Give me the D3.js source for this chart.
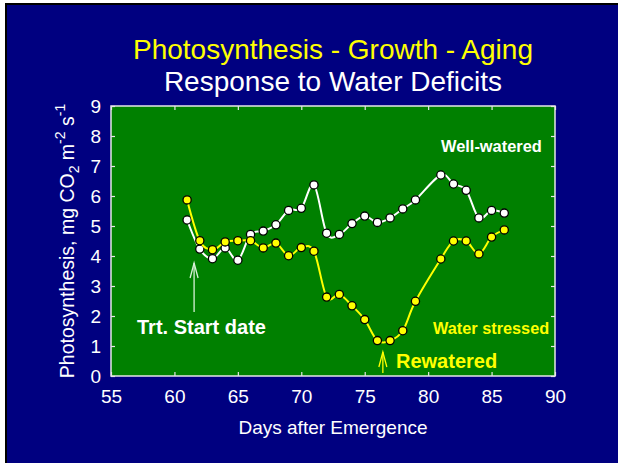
<!DOCTYPE html>
<html>
<head>
<meta charset="utf-8">
<script src="https://cdn.jsdelivr.net/npm/d3@7"></script>
<style>
  html, body { margin: 0; padding: 0; background: #ffffff; }
  svg { display: block; font-family: "Liberation Sans", Arial, sans-serif; }
</style>
</head>
<body>
<svg id="chart" width="618" height="465"></svg>
<script>
// ---- data ----
const wellDays  = [61, 62, 63, 64, 65, 66, 67, 68, 69, 70, 71, 72, 73, 74, 75, 76, 77, 78, 79, 81, 82, 83, 84, 85, 86];
const wellVals  = [5.2, 4.23, 3.91, 4.27, 3.86, 4.72, 4.83, 5.04, 5.52, 5.59, 6.37, 4.76, 4.72, 5.08, 5.33, 5.12, 5.27, 5.57, 5.87, 6.70, 6.40, 6.19, 5.27, 5.52, 5.43];
const stressDays = [61, 62, 63, 64, 65, 66, 67, 68, 69, 70, 71, 72, 73, 74, 75, 76, 77, 78, 79, 81, 82, 83, 84, 85, 86];
const stressVals = [5.87, 4.51, 4.21, 4.47, 4.51, 4.51, 4.27, 4.43, 4.01, 4.28, 4.16, 2.63, 2.72, 2.34, 1.88, 1.18, 1.18, 1.51, 2.49, 3.90, 4.50, 4.50, 4.07, 4.63, 4.87];
const xTicks = [55, 60, 65, 70, 75, 80, 85, 90];
const yTicks = [0, 1, 2, 3, 4, 5, 6, 7, 8, 9];
const titleLines = ["Photosynthesis - Growth - Aging", "Response to Water Deficits"];
const xTitle = "Days after Emergence";
const seriesLabels = ["Well-watered", "Water stressed"];
const noteStart = "Trt. Start date";
const noteRewater = "Rewatered";
const startDay = 61.55;
const rewaterDay = 76.43;

// ---- layout ----
const W = 618, H = 465;
const plot = { left: 111, right: 555, top: 106, bottom: 376 };
const navy = "#000080", green = "#008000", yellow = "#ffff00";

const svg = d3.select("#chart");

// slide background
svg.append("rect").attr("x", 5).attr("y", 3).attr("width", W - 5).attr("height", 460).attr("fill", "#000000");
svg.append("rect").attr("x", 7).attr("y", 5).attr("width", W - 7).attr("height", 458).attr("fill", navy);

const x = d3.scaleLinear().domain([55, 90]).range([plot.left, plot.right]);
const y = d3.scaleLinear().domain([0, 9]).range([plot.bottom, plot.top]);

// plot area
svg.append("rect")
  .attr("x", plot.left).attr("y", plot.top)
  .attr("width", plot.right - plot.left).attr("height", plot.bottom - plot.top)
  .attr("fill", green);

// titles
svg.append("text").attr("x", (plot.left + plot.right) / 2).attr("y", 59)
  .attr("text-anchor", "middle").attr("fill", yellow).attr("font-size", 28)
  .text(titleLines[0]);
svg.append("text").attr("x", (plot.left + plot.right) / 2).attr("y", 91)
  .attr("text-anchor", "middle").attr("fill", "#ffffff").attr("font-size", 28)
  .text(titleLines[1]);

// axes
const axisColor = "#e6e6e6";
function styleAxis(g, labels) {
  g.select(".domain").remove();
  g.selectAll(".tick line").attr("stroke", axisColor).attr("stroke-width", 1.2);
  g.selectAll(".tick text").attr("fill", "#ffffff").attr("font-size", 19)
    .attr("font-family", "Liberation Sans, Arial, sans-serif");
  if (!labels) g.selectAll(".tick text").remove();
}
svg.append("g").attr("transform", `translate(0,${plot.bottom})`)
  .call(d3.axisBottom(x).tickValues(xTicks).tickSizeInner(-4).tickSizeOuter(0).tickPadding(14))
  .call(g => styleAxis(g, true));
svg.append("g").attr("transform", `translate(0,${plot.top})`)
  .call(d3.axisTop(x).tickValues(xTicks).tickSizeInner(-4).tickSizeOuter(0))
  .call(g => styleAxis(g, false));
svg.append("g").attr("transform", `translate(${plot.left},0)`)
  .call(d3.axisLeft(y).tickValues(yTicks).tickSizeInner(-4).tickSizeOuter(0).tickPadding(10))
  .call(g => styleAxis(g, true));
svg.append("g").attr("transform", `translate(${plot.right},0)`)
  .call(d3.axisRight(y).tickValues(yTicks).tickSizeInner(-4).tickSizeOuter(0))
  .call(g => styleAxis(g, false));

// frame
svg.append("rect")
  .attr("x", plot.left).attr("y", plot.top)
  .attr("width", plot.right - plot.left).attr("height", plot.bottom - plot.top)
  .attr("fill", "none").attr("stroke", axisColor).attr("stroke-width", 1.5);

// axis titles
svg.append("text").attr("x", (plot.left + plot.right) / 2).attr("y", 434)
  .attr("text-anchor", "middle").attr("fill", "#ffffff").attr("font-size", 19)
  .text(xTitle);

const yt = svg.append("text")
  .attr("transform", `translate(74,${(plot.top + plot.bottom) / 2}) rotate(-90)`)
  .attr("text-anchor", "middle").attr("fill", "#ffffff").attr("font-size", 19.5);
yt.append("tspan").text("Photosynthesis, mg CO");
yt.append("tspan").attr("font-size", 14).attr("dy", 5).text("2");
yt.append("tspan").attr("dy", -5).text(" m");
yt.append("tspan").attr("font-size", 14).attr("dy", -9).text("-2");
yt.append("tspan").attr("dy", 9).text(" s");
yt.append("tspan").attr("font-size", 14).attr("dy", -9).text("-1");

// series
const line = d3.line().x(d => x(d[0])).y(d => y(d[1])).curve(d3.curveCardinal.tension(0));
function drawSeries(days, vals, color) {
  const pts = days.map((d, i) => [d, vals[i]]);
  svg.append("path").datum(pts).attr("d", line)
    .attr("fill", "none").attr("stroke", color).attr("stroke-width", 2);
  svg.append("g").selectAll("circle").data(pts).join("circle")
    .attr("cx", d => x(d[0])).attr("cy", d => y(d[1])).attr("r", 4.1)
    .attr("fill", color).attr("stroke", "#000000").attr("stroke-width", 1.3);
}
drawSeries(wellDays, wellVals, "#ffffff");
drawSeries(stressDays, stressVals, yellow);

// series labels
svg.append("text").attr("x", 441).attr("y", 151.5)
  .attr("fill", "#ffffff").attr("font-size", 16.4).attr("font-weight", "bold")
  .text(seriesLabels[0]);
svg.append("text").attr("x", 433).attr("y", 334)
  .attr("fill", yellow).attr("font-size", 16.3).attr("font-weight", "bold")
  .text(seriesLabels[1]);

// annotations
svg.append("text").attr("x", 137).attr("y", 334)
  .attr("fill", "#ffffff").attr("font-size", 20).attr("font-weight", "bold")
  .text(noteStart);
svg.append("text").attr("x", 396).attr("y", 368)
  .attr("fill", yellow).attr("font-size", 20).attr("font-weight", "bold")
  .text(noteRewater);

function arrow(xp, yTip, yTail, color) {
  const g = svg.append("g").attr("stroke", color).attr("stroke-width", 1.3).attr("fill", "none");
  g.append("line").attr("x1", xp).attr("x2", xp).attr("y1", yTip).attr("y2", yTail);
  g.append("path").attr("d", `M${xp - 4},${yTip + 15} L${xp},${yTip} L${xp + 4},${yTip + 15}`);
}
arrow(x(startDay), 263, 312, "#d8f0d8");
arrow(x(rewaterDay), 352, 373, yellow);
</script>
</body>
</html>
